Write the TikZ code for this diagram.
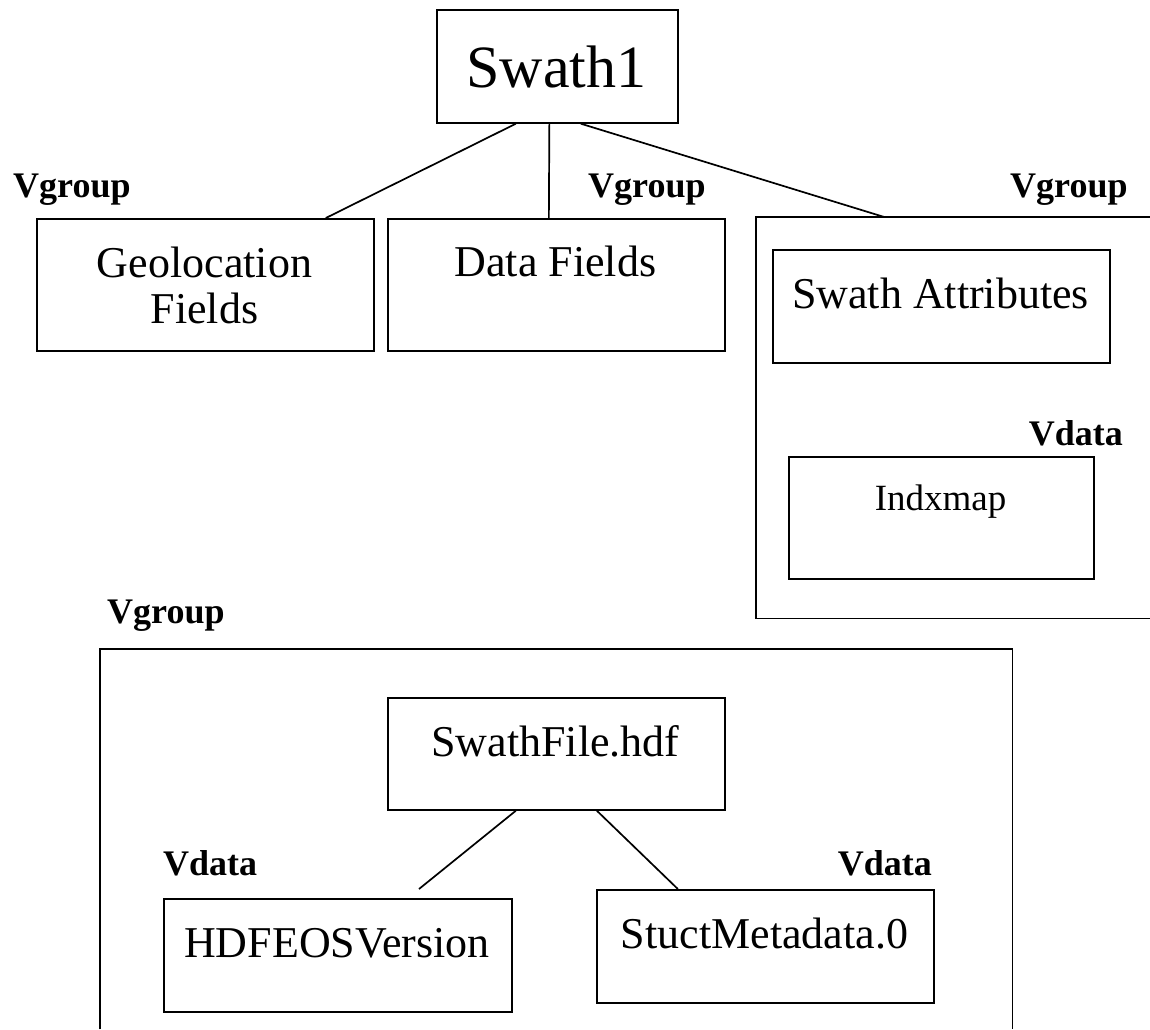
\documentclass[tikz,border=0pt]{standalone}
\usepackage{fontspec}
\setmainfont{Liberation Serif}
\begin{document}
\begin{tikzpicture}[x=1pt,y=-1pt,
  box/.style={draw, line width=1.7pt, rectangle, anchor=north west, inner sep=0pt},
  frame/.style={rectangle, anchor=north west, inner sep=0pt},
  txt/.style={font=\fontsize{44}{46}\selectfont, anchor=base, inner sep=0pt},
  tag/.style={font=\bfseries\fontsize{36}{40}\selectfont, inner sep=0pt},
  link/.style={line width=1.7pt}]
\useasboundingbox (0,0) rectangle (1150,1029);
% top tree
\node[box, minimum width=241pt, minimum height=113pt] (swath) at (436,9) {};
\node[txt, font=\fontsize{60}{64}\selectfont] (swathT) at (556.5,87) {Swath1};
\node[box, minimum width=337pt, minimum height=132pt] (geo) at (36,218) {};
\node[txt] (geoT1) at (204.5,277) {Geolocation};
\node[txt] (geoT2) at (204.5,323) {Fields};
\node[box, minimum width=337pt, minimum height=132pt] (data) at (387,218) {};
\node[txt] (dataT) at (555.5,276) {Data Fields};
\node[frame, minimum width=394pt, minimum height=401pt] (bigR) at (756,217) {};
\draw[link] (bigR.north east) -- (bigR.north west) -- (bigR.south west) -- (bigR.south east);
\node[box, minimum width=337pt, minimum height=113pt] (attrs) at (772,249) {};
\node[txt] (attrsT) at (940.5,308) {Swath Attributes};
\node[box, minimum width=305pt, minimum height=122pt] (indx) at (788,456) {};
\node[txt, font=\fontsize{37}{40}\selectfont] (indxT) at (940.5,510) {Indxmap};
\draw[link] ([xshift=-41.5pt]swath.south) -- ([xshift=120.5pt]geo.north);
\draw[link] ([xshift=-8pt]swath.south) -- ([xshift=-7.5pt]data.north);
\draw[link] ([xshift=23.5pt]swath.south) -- ([xshift=-69pt]bigR.north);
\node[tag, anchor=base west] (vg1) at (13,197) {Vgroup};
\node[tag, anchor=base west] (vg2) at (588,197) {Vgroup};
\node[tag, anchor=base west] (vg3) at (1010,197) {Vgroup};
\node[tag, anchor=base east] (vd1) at (1123,445) {Vdata};
% bottom group
\node[tag, anchor=base west] (vg4) at (107,623) {Vgroup};
\node[frame, minimum width=912pt, minimum height=380pt] (bigB) at (100,649) {};
\draw[link] (bigB.south west) -- (bigB.north west) -- (bigB.north east) -- (bigB.south east);
\node[box, minimum width=337pt, minimum height=112pt] (file) at (387,697) {};
\node[txt] (fileT) at (555.5,756) {SwathFile.hdf};
\node[box, minimum width=348pt, minimum height=113pt] (hdfeos) at (163,898) {};
\node[txt] (hdfeosT) at (337,957) {HDFEOSVersion};
\node[box, minimum width=337pt, minimum height=113pt] (stuct) at (596,889) {};
\node[txt] (stuctT) at (764.5,948) {StuctMetadata.0};
\coordinate (hdfeosEnd) at (419,889);
\draw[link] ([xshift=-40.5pt]file.south) -- (hdfeosEnd);
\draw[link] ([xshift=40.5pt]file.south) -- ([xshift=-87.5pt]stuct.north);
\node[tag, anchor=base west] (vd2) at (163,875) {Vdata};
\node[tag, anchor=base east] (vd3) at (932,875) {Vdata};
\end{tikzpicture}
\end{document}
